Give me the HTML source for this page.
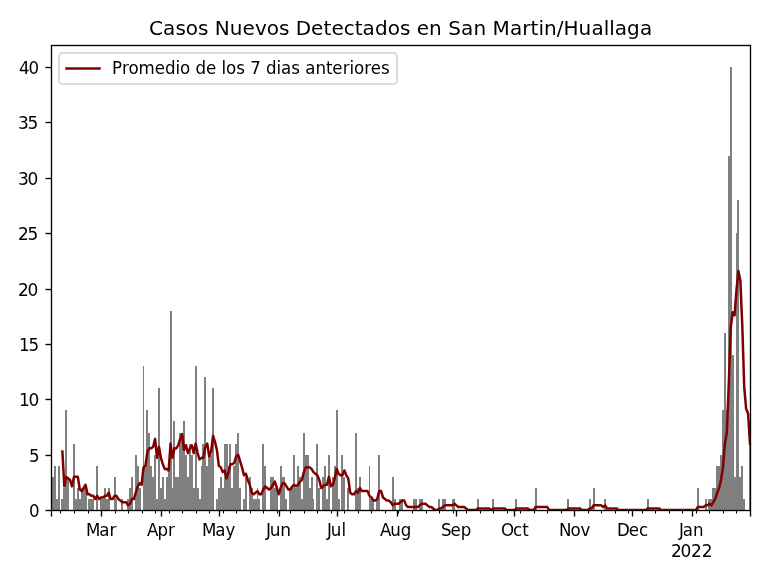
<!DOCTYPE html>
<html lang="es">
<head>
<meta charset="utf-8">
<title>Casos Nuevos Detectados en San Martin/Huallaga</title>
<style>
html,body{margin:0;padding:0;background:#fff;}
body{width:768px;height:576px;overflow:hidden;}
svg{display:block;}
text{font-family:"DejaVu Sans", "Liberation Sans", sans-serif;fill:#000;}
.tk{font-size:16.6667px;}
.tt{font-size:20px;}
</style>
</head>
<body>
<svg width="768" height="576" viewBox="0 0 768 576">
<rect width="768" height="576" fill="#fff"/>
<defs><clipPath id="ax"><rect x="51" y="45" width="699" height="465"/></clipPath></defs>
<g id="bars" clip-path="url(#ax)"><path shape-rendering="crispEdges" fill="#808080" d="M51 510V244H52V510ZM52 510V477H54V510ZM54 510V466H56V510ZM56 510V499H58V510ZM58 510V466H60V510ZM61 510V499H63V510ZM63 510V488H65V510ZM65 510V410H67V510ZM67 510V477H69V510ZM73 510V444H75V510ZM75 510V499H77V510ZM77 510V488H79V510ZM79 510V499H81V510ZM81 510V488H83V510ZM83 510V488H85V510ZM85 510V488H87V510ZM88 510V499H90V510ZM90 510V499H92V510ZM92 510V499H94V510ZM96 510V466H98V510ZM100 510V499H102V510ZM102 510V499H104V510ZM104 510V488H106V510ZM106 510V499H108V510ZM108 510V488H110V510ZM114 510V477H116V510ZM116 510V499H117V510ZM121 510V499H123V510ZM127 510V499H129V510ZM129 510V488H131V510ZM131 510V477H133V510ZM135 510V455H137V510ZM137 510V466H139V510ZM139 510V488H141V510ZM143 510V366H144V510ZM144 510V466H146V510ZM146 510V410H148V510ZM148 510V433H150V510ZM150 510V466H152V510ZM152 510V477H154V510ZM154 510V455H156V510ZM156 510V499H158V510ZM158 510V388H160V510ZM160 510V488H162V510ZM162 510V477H164V510ZM164 510V499H166V510ZM166 510V477H168V510ZM168 510V466H170V510ZM170 510V311H172V510ZM172 510V488H173V510ZM173 510V421H175V510ZM175 510V477H177V510ZM177 510V477H179V510ZM179 510V433H181V510ZM181 510V433H183V510ZM183 510V421H185V510ZM185 510V455H187V510ZM187 510V477H189V510ZM189 510V444H191V510ZM191 510V455H193V510ZM193 510V488H195V510ZM195 510V366H197V510ZM197 510V488H199V510ZM199 510V499H201V510ZM201 510V466H202V510ZM202 510V444H204V510ZM204 510V377H206V510ZM206 510V466H208V510ZM208 510V455H210V510ZM210 510V455H212V510ZM212 510V388H214V510ZM216 510V499H218V510ZM218 510V488H220V510ZM220 510V477H222V510ZM222 510V488H224V510ZM224 510V444H226V510ZM226 510V444H228V510ZM228 510V466H229V510ZM229 510V444H231V510ZM231 510V488H233V510ZM233 510V466H235V510ZM235 510V444H237V510ZM237 510V433H239V510ZM239 510V488H241V510ZM243 510V499H245V510ZM245 510V477H247V510ZM249 510V477H251V510ZM251 510V488H253V510ZM253 510V499H255V510ZM255 510V499H257V510ZM257 510V488H258V510ZM258 510V499H260V510ZM262 510V444H264V510ZM264 510V466H266V510ZM270 510V477H272V510ZM272 510V477H274V510ZM274 510V488H276V510ZM276 510V488H278V510ZM280 510V466H282V510ZM282 510V477H284V510ZM284 510V477H285V510ZM285 510V499H287V510ZM289 510V488H291V510ZM291 510V488H293V510ZM293 510V455H295V510ZM295 510V488H297V510ZM297 510V466H299V510ZM299 510V477H301V510ZM301 510V499H303V510ZM303 510V433H305V510ZM305 510V455H307V510ZM307 510V455H309V510ZM309 510V488H311V510ZM311 510V477H313V510ZM313 510V499H314V510ZM316 510V444H318V510ZM318 510V488H320V510ZM322 510V477H324V510ZM324 510V466H326V510ZM326 510V499H328V510ZM328 510V455H330V510ZM332 510V477H334V510ZM334 510V466H336V510ZM336 510V410H338V510ZM338 510V499H340V510ZM341 510V455H343V510ZM343 510V477H345V510ZM347 510V488H349V510ZM355 510V433H357V510ZM357 510V488H359V510ZM359 510V477H361V510ZM369 510V466H370V510ZM370 510V499H372V510ZM372 510V499H374V510ZM376 510V499H378V510ZM378 510V455H380V510ZM392 510V477H394V510ZM394 510V499H396V510ZM399 510V499H401V510ZM401 510V499H403V510ZM413 510V499H415V510ZM415 510V499H417V510ZM419 510V499H421V510ZM421 510V499H423V510ZM438 510V499H440V510ZM442 510V499H444V510ZM444 510V499H446V510ZM452 510V499H454V510ZM454 510V499H455V510ZM477 510V499H479V510ZM492 510V499H494V510ZM515 510V499H517V510ZM535 510V488H537V510ZM567 510V499H569V510ZM589 510V499H591V510ZM593 510V488H595V510ZM604 510V499H606V510ZM647 510V499H649V510ZM697 510V488H699V510ZM705 510V499H707V510ZM708 510V499H710V510ZM710 510V499H712V510ZM712 510V488H714V510ZM714 510V488H716V510ZM716 510V466H718V510ZM718 510V466H720V510ZM720 510V455H722V510ZM722 510V410H724V510ZM724 510V333H726V510ZM726 510V410H728V510ZM728 510V156H730V510ZM730 510V67H732V510ZM732 510V355H734V510ZM734 510V477H736V510ZM736 510V233H737V510ZM737 510V200H739V510ZM739 510V477H741V510ZM741 510V466H743V510ZM743 510V499H745V510ZM749 510V444H750V510Z"/></g>
<g id="line" clip-path="url(#ax)"><polyline fill="none" stroke="#800000" stroke-width="2.5" stroke-linejoin="round" stroke-linecap="square" points="62.40,451.53 64.33,486.36 66.26,476.86 68.20,478.44 70.13,480.03 72.06,486.36 73.99,476.86 75.92,476.86 77.85,476.86 79.78,489.52 81.72,491.11 83.65,487.94 85.58,484.77 87.51,494.27 89.44,494.27 91.37,495.85 93.30,495.85 95.24,499.02 97.17,495.85 99.10,499.02 101.03,497.44 102.96,497.44 104.89,495.85 106.82,495.85 108.76,492.69 110.69,499.02 112.62,499.02 114.55,495.85 116.48,495.85 118.41,499.02 120.34,500.60 122.28,502.19 124.21,502.19 126.14,502.19 128.07,505.35 130.00,503.77 131.93,499.02 133.87,499.02 135.80,492.69 137.73,486.36 139.66,483.19 141.59,484.77 143.52,467.36 145.45,465.78 147.39,451.53 149.32,448.37 151.25,448.37 153.18,446.79 155.11,438.87 157.04,457.87 158.97,446.79 160.91,457.87 162.84,464.20 164.77,468.95 166.70,468.95 168.63,470.53 170.56,443.62 172.49,457.87 174.43,448.37 176.36,448.37 178.29,445.20 180.22,438.87 182.15,434.12 184.08,449.95 186.01,445.20 187.95,453.12 189.88,448.37 191.81,445.20 193.74,453.12 195.67,443.62 197.60,453.12 199.53,459.45 201.47,457.87 203.40,457.87 205.33,446.79 207.26,443.62 209.19,456.28 211.12,451.53 213.05,435.71 214.99,442.04 216.92,449.95 218.85,465.78 220.78,467.36 222.71,472.11 224.64,470.53 226.58,478.44 228.51,472.11 230.44,464.20 232.37,464.20 234.30,462.61 236.23,456.28 238.16,454.70 240.10,461.03 242.03,467.36 243.96,475.28 245.89,473.69 247.82,480.03 249.75,484.77 251.68,492.69 253.62,494.27 255.55,492.69 257.48,491.11 259.41,494.27 261.34,494.27 263.27,489.52 265.20,486.36 267.14,487.94 269.07,489.52 271.00,487.94 272.93,484.77 274.86,481.61 276.79,487.94 278.72,494.27 280.66,487.94 282.59,483.19 284.52,483.19 286.45,486.36 288.38,489.52 290.31,489.52 292.24,486.36 294.18,484.77 296.11,486.36 298.04,484.77 299.97,481.61 301.90,480.03 303.83,472.11 305.76,467.36 307.70,467.36 309.63,467.36 311.56,468.95 313.49,472.11 315.42,473.69 317.35,475.28 319.29,480.03 321.22,487.94 323.15,486.36 325.08,484.77 327.01,484.77 328.94,476.86 330.87,486.36 332.81,484.77 334.74,478.44 336.67,468.95 338.60,473.69 340.53,475.28 342.46,475.28 344.39,470.53 346.33,475.28 348.26,478.44 350.19,492.69 352.12,494.27 354.05,494.27 355.98,491.11 357.91,492.69 359.85,487.94 361.78,491.11 363.71,491.11 365.64,491.11 367.57,491.11 369.50,495.85 371.43,497.44 373.37,500.60 375.30,500.60 377.23,499.02 379.16,491.11 381.09,491.11 383.02,497.44 384.95,499.02 386.89,500.60 388.82,500.60 390.75,502.19 392.68,505.35 394.61,503.77 396.54,503.77 398.47,503.77 400.41,502.19 402.34,500.60 404.27,500.60 406.20,505.35 408.13,506.93 410.06,506.93 411.99,506.93 413.93,506.93 415.86,506.93 417.79,506.93 419.72,505.35 421.65,503.77 423.58,503.77 425.52,503.77 427.45,505.35 429.38,506.93 431.31,506.93 433.24,508.52 435.17,510.10 437.10,510.10 439.04,508.52 440.97,508.52 442.90,506.93 444.83,505.35 446.76,505.35 448.69,505.35 450.62,505.35 452.56,505.35 454.49,503.77 456.42,505.35 458.35,506.93 460.28,506.93 462.21,506.93 464.14,506.93 466.08,508.52 468.01,510.10 469.94,510.10 471.87,510.10 473.80,510.10 475.73,510.10 477.66,508.52 479.60,508.52 481.53,508.52 483.46,508.52 485.39,508.52 487.32,508.52 489.25,508.52 491.18,510.10 493.12,508.52 495.05,508.52 496.98,508.52 498.91,508.52 500.84,508.52 502.77,508.52 504.70,508.52 506.64,510.10 508.57,510.10 510.50,510.10 512.43,510.10 514.36,510.10 516.29,508.52 518.23,508.52 520.16,508.52 522.09,508.52 524.02,508.52 525.95,508.52 527.88,508.52 529.81,510.10 531.75,510.10 533.68,510.10 535.61,506.93 537.54,506.93 539.47,506.93 541.40,506.93 543.33,506.93 545.27,506.93 547.20,506.93 549.13,510.10 551.06,510.10 552.99,510.10 554.92,510.10 556.85,510.10 558.79,510.10 560.72,510.10 562.65,510.10 564.58,510.10 566.51,510.10 568.44,508.52 570.37,508.52 572.31,508.52 574.24,508.52 576.17,508.52 578.10,508.52 580.03,508.52 581.96,510.10 583.89,510.10 585.83,510.10 587.76,510.10 589.69,508.52 591.62,508.52 593.55,505.35 595.48,505.35 597.41,505.35 599.35,505.35 601.28,505.35 603.21,506.93 605.14,505.35 607.07,508.52 609.00,508.52 610.94,508.52 612.87,508.52 614.80,508.52 616.73,508.52 618.66,510.10 620.59,510.10 622.52,510.10 624.46,510.10 626.39,510.10 628.32,510.10 630.25,510.10 632.18,510.10 634.11,510.10 636.04,510.10 637.98,510.10 639.91,510.10 641.84,510.10 643.77,510.10 645.70,510.10 647.63,508.52 649.56,508.52 651.50,508.52 653.43,508.52 655.36,508.52 657.29,508.52 659.22,508.52 661.15,510.10 663.08,510.10 665.02,510.10 666.95,510.10 668.88,510.10 670.81,510.10 672.74,510.10 674.67,510.10 676.60,510.10 678.54,510.10 680.47,510.10 682.40,510.10 684.33,510.10 686.26,510.10 688.19,510.10 690.12,510.10 692.06,510.10 693.99,510.10 695.92,510.10 697.85,506.93 699.78,506.93 701.71,506.93 703.65,506.93 705.58,505.35 707.51,505.35 709.44,503.77 711.37,505.35 713.30,502.19 715.23,499.02 717.17,492.69 719.10,487.94 721.03,480.03 722.96,467.36 724.89,443.62 726.82,432.54 728.75,385.05 730.69,328.07 732.62,312.24 734.55,315.41 736.48,290.08 738.41,271.09 740.34,280.59 742.27,324.91 744.21,386.64 746.14,408.80 748.07,413.55 750.00,443.62"/></g>
<g id="ticks" fill="none" stroke="#000"><path stroke-width="1.3333" d="M51.5 510.5V516.5M101.5 510.5V516.5M161.5 510.5V516.5M219.5 510.5V516.5M279.5 510.5V516.5M337.5 510.5V516.5M397.5 510.5V516.5M456.5 510.5V516.5M514.5 510.5V516.5M574.5 510.5V516.5M632.5 510.5V516.5M692.5 510.5V516.5M750.5 510.5V516.5"/><path stroke-width="1" d="M60.5 510.5V513.5M74.5 510.5V513.5M88.5 510.5V513.5M115.5 510.5V513.5M128.5 510.5V513.5M142.5 510.5V513.5M155.5 510.5V513.5M169.5 510.5V513.5M182.5 510.5V513.5M196.5 510.5V513.5M209.5 510.5V513.5M223.5 510.5V513.5M236.5 510.5V513.5M250.5 510.5V513.5M263.5 510.5V513.5M277.5 510.5V513.5M290.5 510.5V513.5M304.5 510.5V513.5M317.5 510.5V513.5M331.5 510.5V513.5M344.5 510.5V513.5M358.5 510.5V513.5M371.5 510.5V513.5M385.5 510.5V513.5M398.5 510.5V513.5M412.5 510.5V513.5M426.5 510.5V513.5M439.5 510.5V513.5M453.5 510.5V513.5M466.5 510.5V513.5M480.5 510.5V513.5M493.5 510.5V513.5M507.5 510.5V513.5M520.5 510.5V513.5M534.5 510.5V513.5M547.5 510.5V513.5M561.5 510.5V513.5M588.5 510.5V513.5M601.5 510.5V513.5M615.5 510.5V513.5M628.5 510.5V513.5M642.5 510.5V513.5M655.5 510.5V513.5M669.5 510.5V513.5M682.5 510.5V513.5M696.5 510.5V513.5M709.5 510.5V513.5M723.5 510.5V513.5M736.5 510.5V513.5"/></g>
<g id="hlines" shape-rendering="crispEdges" fill="#000" stroke="none"><path d="M46 510h5v1h-5zM46 455h5v1h-5zM46 399h5v1h-5zM46 344h5v1h-5zM46 289h5v1h-5zM46 233h5v1h-5zM46 178h5v1h-5zM46 122h5v1h-5zM46 67h5v1h-5zM52 45h698v1h-698zM52 510h698v1h-698z"/><path fill-opacity="0.1686" d="M46 509h5v1h-5zM46 511h5v1h-5zM46 454h5v1h-5zM46 456h5v1h-5zM46 398h5v1h-5zM46 400h5v1h-5zM46 343h5v1h-5zM46 345h5v1h-5zM46 288h5v1h-5zM46 290h5v1h-5zM46 232h5v1h-5zM46 234h5v1h-5zM46 177h5v1h-5zM46 179h5v1h-5zM46 121h5v1h-5zM46 123h5v1h-5zM46 66h5v1h-5zM46 68h5v1h-5zM53 44h697v1h-697zM53 46h697v1h-697zM53 509h697v1h-697zM53 511h697v1h-697z"/><path fill-opacity="0.5" d="M45 510h1v1h-1zM45 455h1v1h-1zM45 399h1v1h-1zM45 344h1v1h-1zM45 289h1v1h-1zM45 233h1v1h-1zM45 178h1v1h-1zM45 122h1v1h-1zM45 67h1v1h-1z"/><path fill-opacity="0.085" d="M45 509h1v1h-1zM45 511h1v1h-1zM45 454h1v1h-1zM45 456h1v1h-1zM45 398h1v1h-1zM45 400h1v1h-1zM45 343h1v1h-1zM45 345h1v1h-1zM45 288h1v1h-1zM45 290h1v1h-1zM45 232h1v1h-1zM45 234h1v1h-1zM45 177h1v1h-1zM45 179h1v1h-1zM45 121h1v1h-1zM45 123h1v1h-1zM45 66h1v1h-1zM45 68h1v1h-1z"/></g>
<g id="spines" fill="none" stroke="#000" stroke-width="1.3333" stroke-linecap="square"><path d="M51.5 510.5V45.5M750.5 510.5V45.5"/></g>
<g id="labels"><text class="tt" x="149 163 175.38 185.75 198 208.38 214.75 229.75 242.5 254.88 266.75 279 289.38 295.75 311.12 323.5 331.38 343.75 354.75 362.62 375 387.75 400 410.38 416.75 429.12 441.88 448.25 461 473.38 486.12 492.5 509.88 522.25 530.62 538.5 544 556.75 563.5 578.62 591.38 603.75 609.25 614.75 627.12 639.88" y="35">Casos Nuevos Detectados en San Martin/Huallaga</text><text class="tk" transform="translate(0 536) scale(1 1.08)" x="86.12 99.25 109.62" y="0">Mar</text><text class="tk" transform="translate(0 536) scale(1 1.08)" x="147.12 157.5 168" y="0">Apr</text><text class="tk" transform="translate(0 536) scale(1 1.08)" x="201.88 215.25 225.62" y="0">May</text><text class="tk" style="font-size:17px" transform="translate(0 536) scale(1 1.04)" x="266.12 269.75 280.25" y="0">Jun</text><text class="tk" transform="translate(0 536) scale(1 1.08)" x="326.88 330.75 341.5" y="0">Jul</text><text class="tk" transform="translate(0 536) scale(1 1.08)" x="380.12 390.25 400.75" y="0">Aug</text><text class="tk" transform="translate(0 536) scale(1 1.08)" x="441.12 450.62 460.88" y="0">Sep</text><text class="tk" transform="translate(0 536) scale(1 1.08)" x="500.88 513.12 522.25" y="0">Oct</text><text class="tk" transform="translate(0 536) scale(1 1.08)" x="559.12 570.62 580.5" y="0">Nov</text><text class="tk" transform="translate(0 536) scale(1 1.08)" x="617.12 628.75 639" y="0">Dec</text><text class="tk" transform="translate(0 536) scale(1 1.08)" x="679.12 682.75 692.88" y="0">Jan</text><text class="tk" style="font-size:17px" x="671 680.38 690.88 701.75" y="557">2022</text><text class="tk" transform="translate(0 517) scale(1 1.08)" x="29.12" y="0">0</text><text class="tk" transform="translate(0 462) scale(1 1.08)" x="29" y="0">5</text><text class="tk" style="font-size:17px" transform="translate(0 406) scale(1 1.04)" x="19.12 28.5" y="0">10</text><text class="tk" transform="translate(0 351) scale(1 1.08)" x="19.12 28.5" y="0">15</text><text class="tk" style="font-size:17px" x="18 27.38" y="296">20</text><text class="tk" style="font-size:17px" x="18 27.38" y="240">25</text><text class="tk" style="font-size:17px" transform="translate(0 185) scale(1 1.04)" x="17.94 27.56" y="0">30</text><text class="tk" style="font-size:17px" transform="translate(0 129) scale(1 1.04)" x="17.94 27.56" y="0">35</text><text class="tk" transform="translate(0 74) scale(1 1.08)" x="19 28.5" y="0">40</text></g>
<g id="legend"><rect x="59" y="53" width="338" height="31" rx="3.3" ry="3.3" fill="#fff" fill-opacity="0.8" stroke="#dddddd" stroke-width="2"/><path d="M66.5 68.5H99.5" fill="none" stroke="#800000" stroke-width="2.5" stroke-linecap="square"/><text class="tk" transform="translate(0 74) scale(1 1.08)" x="112 121.88 128.38 138.5 154.75 165 175.5 180.12 190.25 195.5 206 216.25 221.5 226.12 236.25 245 250.25 260.75 266 276.5 281.12 291.25 300 305.25 315.38 326.12 332.38 342.88 349.5 354.12 364.25 370.75 381" y="0">Promedio de los 7 dias anteriores</text></g>
</svg>
</body>
</html>
